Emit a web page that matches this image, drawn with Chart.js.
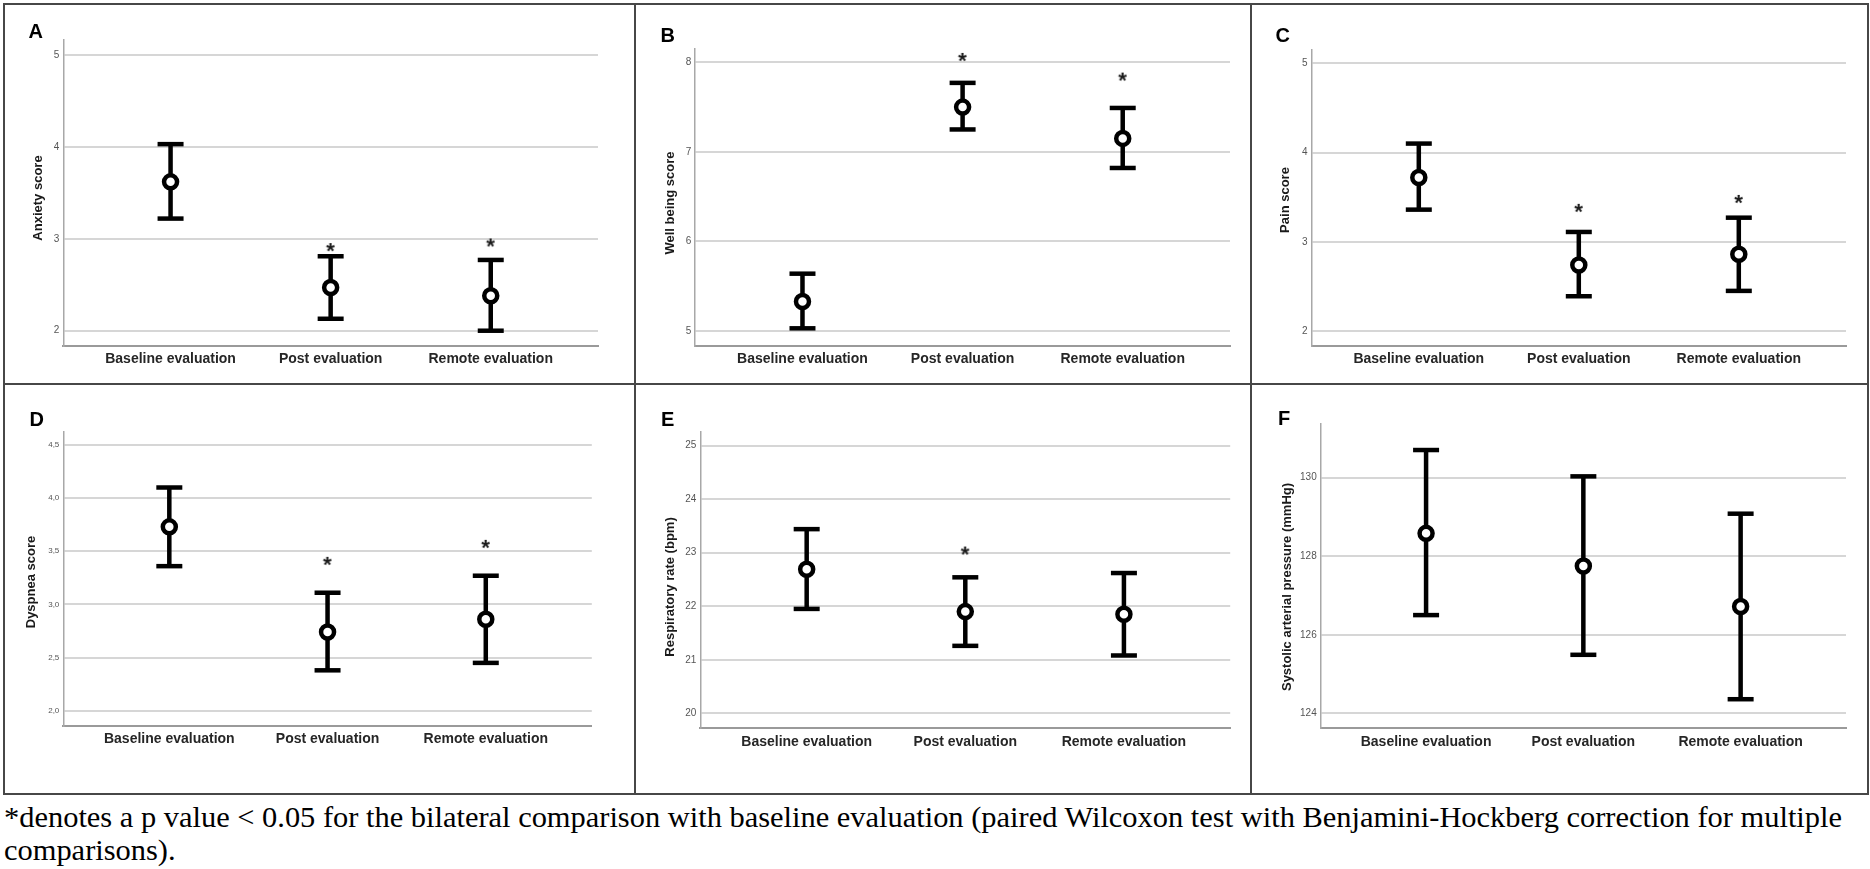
<!DOCTYPE html>
<html><head><meta charset="utf-8">
<script src="https://cdn.jsdelivr.net/npm/chart.js@4/dist/chart.umd.min.js"></script>
<style>
html,body{margin:0;padding:0;background:#fff;}
body{width:1870px;height:869px;position:relative;overflow:hidden;}
canvas{position:absolute;}
.frame{position:absolute;background:#474747;}
.lbl{position:absolute;font:bold 20px/20px "Liberation Sans",Arial,sans-serif;color:#000;}
.ytitle{position:absolute;font:bold 13px/16px "Liberation Sans",Arial,sans-serif;color:#1a1a1a;white-space:nowrap;transform:translate(-50%,-50%) rotate(-90deg);}
#note{position:absolute;left:4px;font-family:"Liberation Serif","Times New Roman",serif;line-height:33px;color:#000;white-space:nowrap;}
</style></head><body>
<div class="frame" style="left:3px;top:3px;width:1866px;height:2px"></div>
<div class="frame" style="left:3px;top:793px;width:1866px;height:2px"></div>
<div class="frame" style="left:3px;top:3px;width:2px;height:792px"></div>
<div class="frame" style="left:1867px;top:3px;width:2px;height:792px"></div>
<div class="frame" style="left:634px;top:3px;width:2px;height:792px"></div>
<div class="frame" style="left:1250px;top:3px;width:2px;height:792px"></div>
<div class="frame" style="left:3px;top:383px;width:1866px;height:2px"></div>
<div id="note"><span id="l1">*denotes a p value &lt; 0.05 for the bilateral comparison with baseline evaluation (paired Wilcoxon test with Benjamini-Hockberg correction for multiple</span><br>comparisons).</div>
<script>
// ---------- DATA ----------
const categories = ['Baseline evaluation', 'Post evaluation', 'Remote evaluation'];

// A - Anxiety
const anxietyMean = [3.62, 2.47, 2.38];
const anxietyLow  = [3.22, 2.13, 2.00];
const anxietyHigh = [4.03, 2.81, 2.77];
const anxietyStar = [null, 2.91, 2.96];
const anxietyTicks = [2, 3, 4, 5];
const anxietyTickLabels = ['2', '3', '4', '5'];
const anxietyRange = [1.837, 5.163];

// B - Well being
const wellMean = [5.33, 7.50, 7.15];
const wellLow  = [5.03, 7.25, 6.82];
const wellHigh = [5.64, 7.77, 7.49];
const wellStar = [null, 8.06, 7.84];
const wellTicks = [5, 6, 7, 8];
const wellTickLabels = ['5', '6', '7', '8'];
const wellRange = [4.836, 8.156];

// C - Pain
const painMean = [3.72, 2.74, 2.86];
const painLow  = [3.36, 2.39, 2.45];
const painHigh = [4.10, 3.11, 3.27];
const painStar = [null, 3.38, 3.48];
const painTicks = [2, 3, 4, 5];
const painTickLabels = ['2', '3', '4', '5'];
const painRange = [1.836, 5.156];

// D - Dyspnea
const dyspMean = [3.73, 2.74, 2.86];
const dyspLow  = [3.36, 2.38, 2.45];
const dyspHigh = [4.10, 3.11, 3.27];
const dyspStar = [null, 3.41, 3.57];
const dyspTicks = [2.0, 2.5, 3.0, 3.5, 4.0, 4.5];
const dyspTickLabels = ['2,0', '2,5', '3,0', '3,5', '4,0', '4,5'];
const dyspRange = [1.859, 4.625];

// E - Respiratory rate
const respMean = [22.69, 21.90, 21.85];
const respLow  = [21.95, 21.26, 21.08];
const respHigh = [23.44, 22.54, 22.62];
const respStar = [null, 23.04, null];
const respTicks = [20, 21, 22, 23, 24, 25];
const respTickLabels = ['20', '21', '22', '23', '24', '25'];
const respRange = [19.72, 25.26];

// F - Systolic arterial pressure
const sapMean = [128.58, 127.75, 126.72];
const sapLow  = [126.50, 125.49, 124.36];
const sapHigh = [130.70, 130.03, 129.08];
const sapStar = [null, null, null];
const sapTicks = [124, 126, 128, 130];
const sapTickLabels = ['124', '126', '128', '130'];
const sapRange = [123.62, 131.38];

const panels = [
  {letter:'A', title:'Anxiety score', mean:anxietyMean, low:anxietyLow, high:anxietyHigh, star:anxietyStar, ticks:anxietyTicks, tickLabels:anxietyTickLabels, range:anxietyRange},
  {letter:'B', title:'Well being score', mean:wellMean, low:wellLow, high:wellHigh, star:wellStar, ticks:wellTicks, tickLabels:wellTickLabels, range:wellRange},
  {letter:'C', title:'Pain score', mean:painMean, low:painLow, high:painHigh, star:painStar, ticks:painTicks, tickLabels:painTickLabels, range:painRange},
  {letter:'D', title:'Dyspnea score', mean:dyspMean, low:dyspLow, high:dyspHigh, star:dyspStar, ticks:dyspTicks, tickLabels:dyspTickLabels, range:dyspRange},
  {letter:'E', title:'Respiratory rate (bpm)', mean:respMean, low:respLow, high:respHigh, star:respStar, ticks:respTicks, tickLabels:respTickLabels, range:respRange},
  {letter:'F', title:'Systolic arterial pressure (mmHg)', mean:sapMean, low:sapLow, high:sapHigh, star:sapStar, ticks:sapTicks, tickLabels:sapTickLabels, range:sapRange}
];

// ---------- LAYOUT (pixels) ----------
const layouts = [
  {canvas:[5,5,629,378],     axL:63.3,   axR:598,   axT:40,    axB:345.7, title:[38,197.5],     letter:[28.6,21.4],   tick:10},
  {canvas:[636,5,614,378],   axL:695.2,  axR:1230,  axT:48.3,  axB:345.7, title:[669.5,202.5],  letter:[660.5,24.8],  tick:10},
  {canvas:[1252,5,615,378],  axL:1311.6, axR:1846,  axT:49.3,  axB:345.7, title:[1284.9,199.7], letter:[1275.5,25.1], tick:10},
  {canvas:[5,385,629,408],   axL:63.3,   axR:591.8, axT:431.7, axB:725.7, title:[30.6,581.7],   letter:[29.5,408.8],  tick:8},
  {canvas:[636,385,614,408], axL:700.4,  axR:1230.2,axT:431.7, axB:728.3, title:[669.5,587],    letter:[661,408.8],   tick:10},
  {canvas:[1252,385,615,408],axL:1320.7, axR:1846,  axT:423.3, axB:728.3, title:[1286.8,587.3], letter:[1278,408.1],  tick:10}
];

const SANS = '"Liberation Sans", Arial, sans-serif';
const NARROW = '"Liberation Sans Narrow", "Liberation Sans", Arial, sans-serif';

function makeStar() {
  const c = document.createElement('canvas');
  c.width = 16; c.height = 16;
  const g = c.getContext('2d');
  g.font = 'bold 22px ' + SANS;
  const m = g.measureText('*');
  const w = m.actualBoundingBoxLeft + m.actualBoundingBoxRight;
  const h = m.actualBoundingBoxAscent + m.actualBoundingBoxDescent;
  g.fillStyle = '#1a1a1a';
  g.textBaseline = 'alphabetic';
  g.fillText('*', 8 - w / 2 + m.actualBoundingBoxLeft, 8 - h / 2 + m.actualBoundingBoxAscent);
  return c;
}
const starImg = makeStar();

panels.forEach((p, k) => {
  const L = layouts[k];
  const [cl, ct, cw, ch] = L.canvas;
  const cv = document.createElement('canvas');
  cv.width = cw; cv.height = ch;
  cv.style.left = cl + 'px'; cv.style.top = ct + 'px';
  cv.style.width = cw + 'px'; cv.style.height = ch + 'px';
  document.body.appendChild(cv);

  const lb = document.createElement('div');
  lb.className = 'lbl'; lb.textContent = p.letter;
  lb.style.left = L.letter[0] + 'px'; lb.style.top = L.letter[1] + 'px';
  document.body.appendChild(lb);

  const yt = document.createElement('div');
  yt.className = 'ytitle'; yt.textContent = p.title;
  yt.style.left = L.title[0] + 'px'; yt.style.top = L.title[1] + 'px';
  document.body.appendChild(yt);

  const pl = 0;
  const yW = L.axL - cl - pl;
  const pr = cl + cw - L.axR;
  const pt = L.axT - ct;
  const xH = 30;
  const pb = ct + ch - L.axB - xH;

  const whisker = [], caps = [], means = [], stars = [];
  p.mean.forEach((m, i) => {
    whisker.push({x:i, y:p.low[i]}, {x:i, y:p.high[i]}, {x:i, y:null});
    caps.push({x:i, y:p.low[i]}, {x:i, y:p.high[i]});
    means.push({x:i, y:m});
    if (p.star[i] != null) stars.push({x:i, y:p.star[i]});
  });

  new Chart(cv, {
    type: 'scatter',
    data: {datasets: [
      {type:'scatter', data:means, pointStyle:'circle', pointRadius:6.5, pointBorderWidth:4.5,
       pointBackgroundColor:'#ffffff', pointBorderColor:'#000000', order:0, clip:false},
      {type:'scatter', data:caps, pointStyle:'line', pointRadius:13, pointBorderWidth:4.5,
       pointBorderColor:'#000000', pointBackgroundColor:'#000000', order:1, clip:false},
      {type:'line', data:whisker, borderColor:'#000000', borderWidth:4.5, pointRadius:0,
       spanGaps:false, fill:false, borderCapStyle:'butt', order:2, clip:false},
      {type:'scatter', data:stars, pointStyle:starImg, pointRadius:8, order:3, clip:false}
    ]},
    options: {
      responsive:false, animation:false, events:[],
      plugins:{legend:{display:false}, tooltip:{enabled:false}},
      layout:{padding:{left:pl, right:pr, top:pt, bottom:pb}},
      scales:{
        x:{
          type:'linear', min:-0.67, max:2.67,
          afterBuildTicks:s => { s.ticks = categories.map((c, i) => ({value:i})); },
          afterFit:s => { s.height = xH; },
          grid:{display:false, drawTicks:false, tickLength:0},
          border:{display:true, color:'#9a9a9a', width:2},
          ticks:{padding:5, color:'#262626', autoSkip:false, maxRotation:0, minRotation:0,
                 font:{family:SANS, size:14, weight:'bold', lineHeight:1.2},
                 callback:v => categories[Math.round(v)]}
        },
        y:{
          type:'linear', min:p.range[0], max:p.range[1],
          afterBuildTicks:s => { s.ticks = p.ticks.map(v => ({value:v})); },
          afterFit:s => { s.width = yW; },
          grid:{color:'#d6d6d6', lineWidth:2, drawTicks:false, tickLength:0},
          border:{display:true, color:'#a8a8a8', width:1.5},
          ticks:{padding:4, color:'#555555', autoSkip:false,
                 font:{family:NARROW, size:L.tick, lineHeight:1.2},
                 callback:v => { const i = p.ticks.findIndex(t => Math.abs(t - v) < 1e-6); return i >= 0 ? p.tickLabels[i] : ''; }},
          title:{display:false}
        }
      }
    }
  });
});

// footnote fit
(function(){
  const note = document.getElementById('note');
  const g = document.createElement('canvas').getContext('2d');
  const fam = '"Liberation Serif","Times New Roman",serif';
  g.font = '100px ' + fam;
  const w = g.measureText(document.getElementById('l1').textContent).width;
  const fs = 100 * 1839 / w;
  g.font = fs + 'px ' + fam;
  const m = g.measureText('d');
  const asc = m.fontBoundingBoxAscent, desc = m.fontBoundingBoxDescent;
  note.style.fontSize = fs + 'px';
  const lh = 33;
  const top = 827 - (lh - (asc + desc)) / 2 - asc;
  note.style.top = top + 'px';
})();
</script>
</body></html>
